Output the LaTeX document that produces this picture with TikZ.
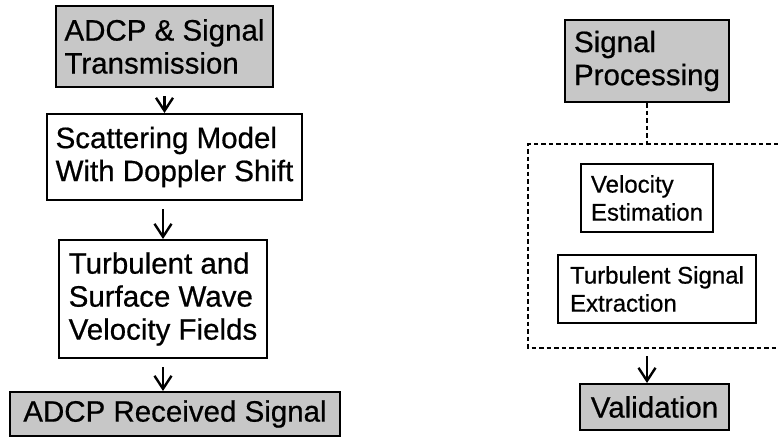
\documentclass[tikz,border=0pt]{standalone}
\usepackage{fontspec}
\setmainfont{Liberation Sans}[BoldFont=Liberation Sans,BoldFeatures={FakeBold=0.6}]
\usetikzlibrary{arrows.meta,calc}
\begin{document}
\begin{tikzpicture}[x=1pt,y=-1pt,
  box/.style={draw=black,line width=2pt,inner sep=0pt,align=left,
    font=\fontsize{29.5}{33}\selectfont\bfseries},
  smallbox/.style={box,line width=1.6pt,font=\fontsize{24}{28}\selectfont\bfseries},
  shaded/.style={fill=black!22},
  flow/.style={line width=2.6pt,shorten <=8pt,-{Straight Barb[length=13pt,width=17pt,line width=2.4pt]}},
  dashline/.style={line width=1.3pt,dash pattern=on 4.5pt off 3pt}]
\useasboundingbox (0,0) rectangle (778,439);
% left column
\node[box,shaded,minimum width=217,minimum height=81] (adcp) at (164.5,46.5) {ADCP \& Signal\\Transmission};
\node[box,minimum width=255,minimum height=86] (scat) at (174.5,157) {Scattering Model\\With Doppler Shift};
\node[box,minimum width=208,minimum height=118] (turb) at (163,299) {Turbulent and\\Surface Wave\\Velocity Fields};
\node[box,shaded,minimum width=330,minimum height=44] (recv) at (175,414) {ADCP Received Signal};
\draw[flow] (adcp.south) -- (adcp.south |- scat.north);
\draw[flow] (turb.north |- scat.south) -- (turb.north);
\draw[flow] (turb.south) -- (turb.south |- recv.north);
% right column
\node[box,shaded,minimum width=164,minimum height=82] (sp) at (647,61) {Signal\\Processing};
\node[smallbox,minimum width=132,minimum height=68] (vel) at (647,198) {Velocity\\Estimation};
\node[smallbox,minimum width=198,minimum height=68] (tse) at (657,289) {Turbulent Signal\\Extraction};
\node[box,shaded,minimum width=149,minimum height=46] (val) at (654.5,407) {Validation};
\coordinate (dtl) at (528,144);
\coordinate (dbl) at (528,348);
\coordinate (dtr) at (778,144);
\coordinate (dbr) at (778,348);
\draw[dashline] (dtr) -- (dtl) -- (dbl) -- (dbr);
\draw[dashline] (sp.south) -- (sp.south |- dtl);
\draw[flow] (sp.south |- dbl) -- (sp.south |- val.north);
\end{tikzpicture}
\end{document}
